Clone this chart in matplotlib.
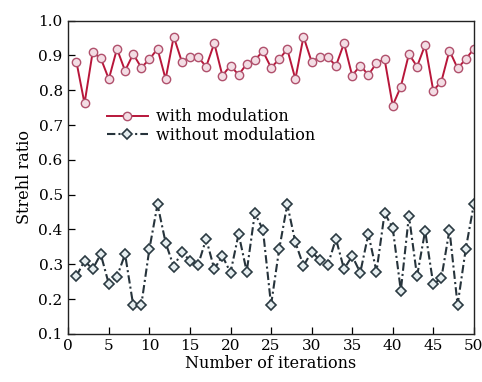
import numpy as np
import matplotlib
matplotlib.use("Agg")
import matplotlib.pyplot as plt

# Strehl ratio per iteration
iterations = np.arange(1, 51)
with_modulation = [
    0.882, 0.762, 0.909, 0.892, 0.832, 0.919, 0.856, 0.904, 0.865, 0.889,
    0.919, 0.832, 0.954, 0.882, 0.895, 0.895, 0.868, 0.935, 0.842, 0.871,
    0.844, 0.876, 0.887, 0.912, 0.865, 0.889, 0.918, 0.832, 0.954, 0.882,
    0.895, 0.895, 0.870, 0.935, 0.842, 0.871, 0.844, 0.878, 0.889, 0.756,
    0.810, 0.904, 0.868, 0.930, 0.799, 0.825, 0.914, 0.863, 0.889, 0.919,
]
without_modulation = [
    0.266, 0.310, 0.286, 0.329, 0.243, 0.264, 0.329, 0.183, 0.183, 0.344,
    0.472, 0.362, 0.293, 0.336, 0.310, 0.298, 0.373, 0.286, 0.324, 0.276,
    0.387, 0.279, 0.447, 0.399, 0.183, 0.343, 0.472, 0.363, 0.295, 0.336,
    0.312, 0.298, 0.373, 0.286, 0.324, 0.276, 0.387, 0.279, 0.447, 0.405,
    0.224, 0.440, 0.266, 0.396, 0.243, 0.260, 0.399, 0.183, 0.343, 0.472,
]
series_labels = ["with modulation", "without modulation"]
xticks = list(range(0, 51, 5))
yticks = [round(0.1 * i, 1) for i in range(1, 11)]

plt.rcParams["font.family"] = ["DejaVu Serif"]
plt.rcParams["font.size"] = 11

fig = plt.figure(figsize=(4.82, 3.82), dpi=100)
ax = fig.add_axes([0.1417, 0.126, 0.8413, 0.82])

ax.plot(iterations, with_modulation, color="#b8163a", linewidth=1.4,
        marker="o", markersize=6, markerfacecolor="#f3dde4",
        markeredgecolor="#b0506c", markeredgewidth=1.0,
        label=series_labels[0])
ax.plot(iterations, without_modulation, color="#26333b", linewidth=1.5,
        linestyle=(0, (4, 1.5, 1, 1.5)),
        marker="D", markersize=5.5, markerfacecolor="#e6eef0",
        markeredgecolor="#2b3a42", markeredgewidth=1.2,
        label=series_labels[1])

ax.set_xlim(0, 50)
ax.set_ylim(0.1, 1.0)
ax.set_xticks(xticks)
ax.set_yticks(yticks)
ax.set_yticklabels([f"{v:.1f}" for v in yticks])
ax.tick_params(direction="in", length=5, width=0.9, top=False, right=False,
               labelsize=11, pad=4)
for spine in ax.spines.values():
    spine.set_linewidth(1.0)
    spine.set_color("#222222")

ax.set_xlabel("Number of iterations", fontsize=11.5, labelpad=1)
ax.set_ylabel("Strehl ratio", fontsize=11.5, labelpad=4)

ax.legend(loc="upper left", bbox_to_anchor=(0.075, 0.745), frameon=False,
          borderpad=0, labelspacing=0.1, handlelength=2.6, handletextpad=0.5,
          fontsize=11.5)

fig.savefig("out.png", dpi=100)
